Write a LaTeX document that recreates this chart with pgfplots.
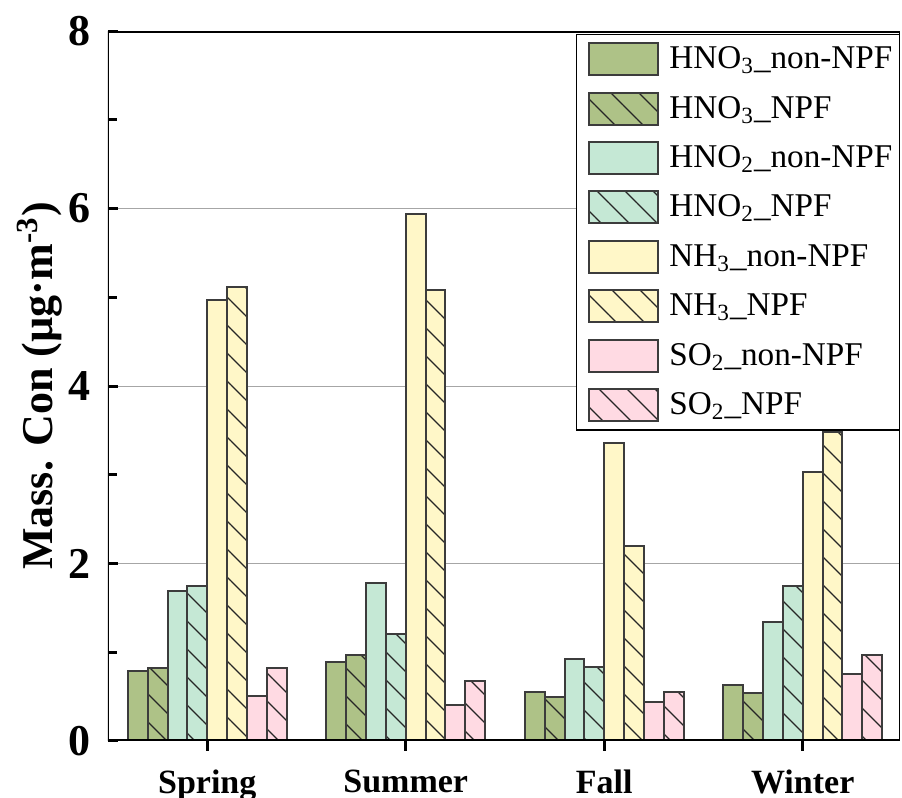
\documentclass[border=0pt]{standalone}
\usepackage{fontspec}
\setmainfont{Liberation Serif}
\usepackage{pgfplots}
\pgfplotsset{compat=1.18}
\usepackage{pgfplotstable}
\usetikzlibrary{patterns.meta}

\definecolor{hno3c}{RGB}{174,194,135}
\definecolor{hno2c}{RGB}{197,232,213}
\definecolor{nh3c}{RGB}{255,247,200}
\definecolor{so2c}{RGB}{255,218,227}
\definecolor{edgec}{RGB}{60,60,60}

% seasons at 0..3, one column per series
\pgfplotstableread{
x hno3n hno3p hno2n hno2p nh3n nh3p so2n so2p
0 0.79  0.82  1.69  1.75  4.97 5.12 0.51 0.82
1 0.89  0.97  1.78  1.20  5.94 5.08 0.41 0.68
2 0.55  0.50  0.92  0.83  3.36 2.20 0.44 0.55
3 0.63  0.54  1.34  1.75  3.03 3.48 0.75 0.97
}\conc

\tikzset{
  barbase/.style={draw=edgec, line width=1pt},
  hatch/.style={postaction={pattern={Lines[angle=-45,distance=9.9pt,line width=0.6pt]},pattern color=black!85}},
}

\begin{document}
\begin{tikzpicture}
\begin{axis}[
  scale only axis, width=396pt, height=355pt,
  xmin=-0.5, xmax=3.49, ymin=0, ymax=8,
  ybar, bar width=0.1,
  xtick={0,1,2,3}, xticklabels={Spring,Summer,Fall,Winter},
  ytick={0,2,4,6,8}, minor y tick num=1,
  tick pos=left,
  xtick align=outside, ytick align=inside,
  major tick length=5pt, minor tick length=4.5pt,
  major tick style={black, line width=1.5pt},
  minor tick style={black, line width=1.5pt},
  x tick label style={font=\bfseries\fontsize{17}{17}\selectfont, yshift=-6pt},
  y tick label style={font=\bfseries\fontsize{22}{22}\selectfont, xshift=-5pt},
  /pgf/number format/assume math mode=true,
  ymajorgrids, grid style={black!35, line width=0.5pt},
  axis line style={draw=none},
  every axis y label/.style={at={(axis description cs:-0.0859,0.5)}, rotate=90, anchor=center,
    font=\bfseries\fontsize{22}{22}\selectfont},
  ylabel={Mass. Con (µg·m\textsuperscript{-3})},
  legend style={at={(axis description cs:1,1)}, anchor=north east, yshift=-1.25pt,
    draw=black, line width=0.6pt, fill=white,
    font=\fontsize{16.6}{16.6}\selectfont,
    inner xsep=1.5pt, inner ysep=4pt, row sep=7.7pt,
    nodes={inner xsep=2pt},
    /tikz/every odd column/.append style={column sep=3pt}},
  legend cell align=left,
  legend image code/.code={\path (0pt,0pt); \draw[#1] (4.5pt,-8pt) rectangle (39pt,8pt);},
]
\addplot[barbase, fill=hno3c, bar shift=-0.35] table[x=x, y=hno3n] {\conc};
\addplot[barbase, fill=hno3c, hatch, bar shift=-0.25] table[x=x, y=hno3p] {\conc};
\addplot[barbase, fill=hno2c, bar shift=-0.15] table[x=x, y=hno2n] {\conc};
\addplot[barbase, fill=hno2c, hatch, bar shift=-0.05] table[x=x, y=hno2p] {\conc};
\addplot[barbase, fill=nh3c, bar shift=0.05] table[x=x, y=nh3n] {\conc};
\addplot[barbase, fill=nh3c, hatch, bar shift=0.15] table[x=x, y=nh3p] {\conc};
\addplot[barbase, fill=so2c, bar shift=0.25] table[x=x, y=so2n] {\conc};
\addplot[barbase, fill=so2c, hatch, bar shift=0.35] table[x=x, y=so2p] {\conc};
\legend{HNO\textsubscript{3}\_non-NPF, HNO\textsubscript{3}\_NPF,
  HNO\textsubscript{2}\_non-NPF, HNO\textsubscript{2}\_NPF,
  NH\textsubscript{3}\_non-NPF, NH\textsubscript{3}\_NPF,
  SO\textsubscript{2}\_non-NPF, SO\textsubscript{2}\_NPF}
% spines: thick left, bottom, top; thin right
\draw[black, line width=1.5pt, line join=miter] (rel axis cs:1,0) -- (rel axis cs:0,0) -- (rel axis cs:0,1) -- (rel axis cs:1,1);
\draw[black, line width=0.6pt] (rel axis cs:1,0) -- (rel axis cs:1,1);
\end{axis}
\pgfresetboundingbox
\path (-54pt,-28.5pt) rectangle (397pt,370.5pt);
\end{tikzpicture}
\end{document}
